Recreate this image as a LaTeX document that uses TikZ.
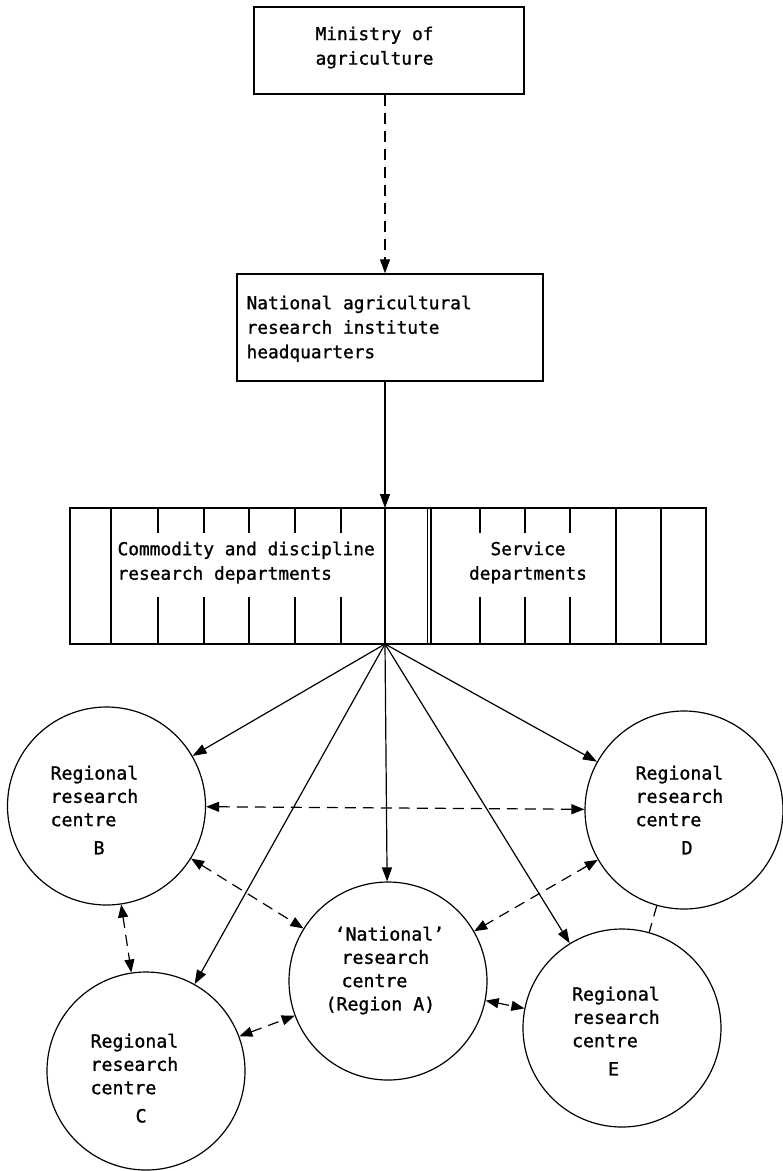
\documentclass[tikz,border=0pt]{standalone}
\usepackage{fontspec}
\setmainfont{DejaVu Sans Mono}[FakeBold=1.2]
\usetikzlibrary{arrows.meta}
\begin{document}
\begin{tikzpicture}[x=1pt,y=-1pt,
  line width=1.2pt,
  txt/.style={inner sep=0pt, anchor=north west, align=left, font=\fontsize{17.8}{24.5}\selectfont},
  ctxt/.style={txt, font=\fontsize{18.2}{23.3}\selectfont},
  boxed/.style={draw, line width=1.4pt, inner sep=0pt},
  rcentre/.style={draw, circle, inner sep=0pt, minimum size=198pt},
  tip/.style={-{Triangle[length=14pt,width=10pt]}},
  bitip/.style={{Triangle[length=13pt,width=10pt]}-{Triangle[length=13pt,width=10pt]}},
  dashline/.style={dash pattern=on 11pt off 7pt},
]
\useasboundingbox (0,0) rectangle (783,1171);

% boxes of the hierarchy
\node[boxed, minimum width=270pt, minimum height=87pt] (ministry) at (389,50.5) {};
\node[boxed, minimum width=306pt, minimum height=107pt] (nari) at (390,327.5) {};
\node[boxed, minimum width=636pt, minimum height=136pt] (depts) at (388,576) {};

% department dividers: full-height and broken ones
\foreach \x in {111,427.5,431,616,661}
  \draw (\x,508) -- (\x,644);
\foreach \x in {158,204,249,295,341,480,525,570} {
  \draw (\x,508) -- (\x,533);
  \draw (\x,597) -- (\x,644);
}

\coordinate (hubtop) at (385,508);
\coordinate (hub) at (385,644);

% box texts
\node[txt] (ministrytext) at (315,26) {Ministry of\\agriculture};
\node[txt] (naritext) at (246,295) {National agricultural\\research institute\\headquarters};
\node[txt] (commtext) at (117,541) {Commodity and discipline\\research departments};
\node[txt, anchor=north, align=center] (servtext) at (528,541) {Service\\departments};

% research centres
\node[rcentre] (B) at (106.5,806) {};
\node[rcentre] (D) at (684,810) {};
\node[rcentre] (A) at (388,981) {};
\node[rcentre] (C) at (146,1071) {};
\node[rcentre] (E) at (622,1028) {};

\node[ctxt] (Btext) at (50,765) {Regional\\research\\centre\\[5pt]\hspace*{43pt}B};
\node[ctxt] (Dtext) at (635,765) {Regional\\research\\centre\\[5pt]\hspace*{46pt}D};
\node[ctxt] (Atext) at (341,926) {\hspace*{-7pt}‘National’\\research\\centre\\\hspace*{-16pt}(Region A)};
\node[ctxt] (Ctext) at (90,1033) {Regional\\research\\centre\\[5pt]\hspace*{45pt}C};
\node[ctxt] (Etext) at (571.5,986) {Regional\\research\\centre\\[5pt]\hspace*{36pt}E};

% line of command
\draw[tip, dashline] (ministry.south -| hub) -- (nari.north -| hub);
\draw[tip] (nari.south -| hub) -- (hubtop);
\draw (hubtop) -- (hub);
\foreach \n in {B,D,A,C,E}
  \draw[tip] (hub) -- (\n);

% links between centres
\draw[bitip, dashline] (B) -- (D);
\draw[bitip, dashline] (B) -- (A);
\draw[bitip, dashline] (D) -- (A);
\draw[bitip, dashline] (B) -- (C);
\draw[bitip, dashline] (C) -- (A);
\draw[bitip, dashline] (A) -- (E);
\draw[dashline] (D) -- (E);
\end{tikzpicture}
\end{document}
